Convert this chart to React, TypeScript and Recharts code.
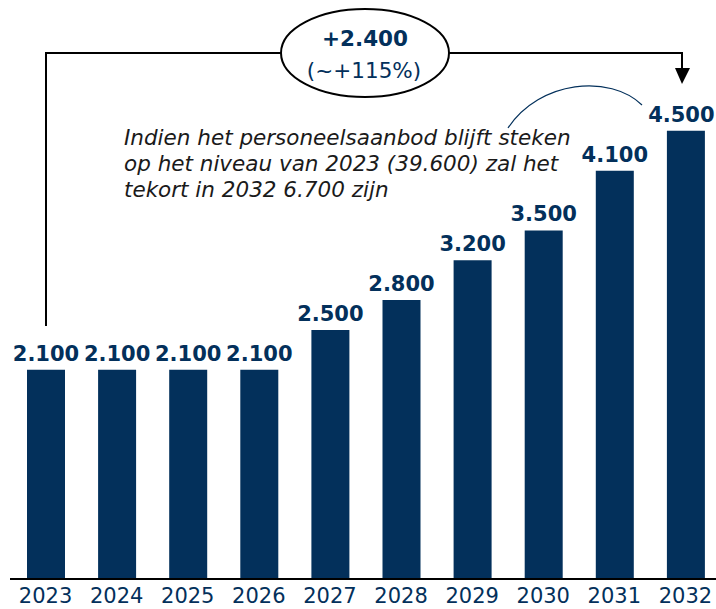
import { BarChart, Bar, XAxis, YAxis, LabelList } from 'recharts';

const years = ['2023', '2024', '2025', '2026', '2027', '2028', '2029', '2030', '2031', '2032'];
const shortage = [2100, 2100, 2100, 2100, 2500, 2800, 3200, 3500, 4100, 4500];

const NAVY = '#03305b';
const FONT = "'DejaVu Sans', Verdana, sans-serif";
const W = 716;
const H = 609;

const formatNl = (v: number) => String(v).replace(/\B(?=(\d{3})+(?!\d))/g, '.');

if (typeof document !== 'undefined') {
  document.body.style.margin = '0';
}

// value label above each bar, kept inside the picture on the right
const ValueLabel = (props: any) => {
  const { x, y, width, value } = props;
  const text = formatNl(Number(value));
  const half = (text.length * 0.64 * 21) / 2;
  const cx = Math.min(Number(x) + Number(width) / 2, W - half - 1);
  return (
    <text x={cx} y={Number(y) - 9} textAnchor="middle" fill={NAVY} fontSize={21} fontWeight="bold" fontFamily={FONT}>
      {text}
    </text>
  );
};

export default function App() {
  const data = years.map((year, i) => ({ year, value: shortage[i] }));

  return (
    <div style={{ position: 'relative', width: W, height: H, background: '#fff' }}>
      <BarChart width={W} height={H} data={data} margin={{ top: 81, right: -5, left: 10, bottom: 0 }}>
        <XAxis
          dataKey="year"
          height={30}
          tickLine={false}
          axisLine={{ stroke: '#000', strokeWidth: 2 }}
          tick={{ fill: NAVY, fontSize: 21, fontFamily: FONT, dy: 1 }}
          interval={0}
        />
        <YAxis hide domain={[0, 5000]} />
        <Bar dataKey="value" fill={NAVY} barSize={38} isAnimationActive={false}>
          <LabelList dataKey="value" content={ValueLabel} />
        </Bar>
      </BarChart>

      {/* annotations */}
      <svg width={W} height={H} style={{ position: 'absolute', left: 0, top: 0, pointerEvents: 'none' }}>
        <polyline points="46,326 46,53 282,53" fill="none" stroke="#000" strokeWidth={2} />
        <polyline points="448,53 682,53 682,69" fill="none" stroke="#000" strokeWidth={2} />
        <polygon points="675,68 690,68 682,84" fill="#000" />
        <ellipse cx={365} cy={53} rx={84} ry={44} fill="#fff" stroke="#000" strokeWidth={2} />
        <text x={365} y={46} textAnchor="middle" fill={NAVY} fontSize={21.5} fontWeight="bold" fontFamily={FONT}>
          +2.400
        </text>
        <text x={364} y={78} textAnchor="middle" fill={NAVY} fontSize={21.5} fontFamily={FONT}>
          (~+115%)
        </text>
        <path d="M 508 128 C 540 80, 610 74, 642 105" fill="none" stroke={NAVY} strokeWidth={1.2} />
        <g fill="#1a1a1a" fontSize={21.5} fontStyle="italic" fontFamily={FONT}>
          <text x={124} y={145}>Indien het personeelsaanbod blijft steken</text>
          <text x={124} y={171}>op het niveau van 2023 (39.600) zal het</text>
          <text x={124} y={197}>tekort in 2032 6.700 zijn</text>
        </g>
      </svg>
    </div>
  );
}
